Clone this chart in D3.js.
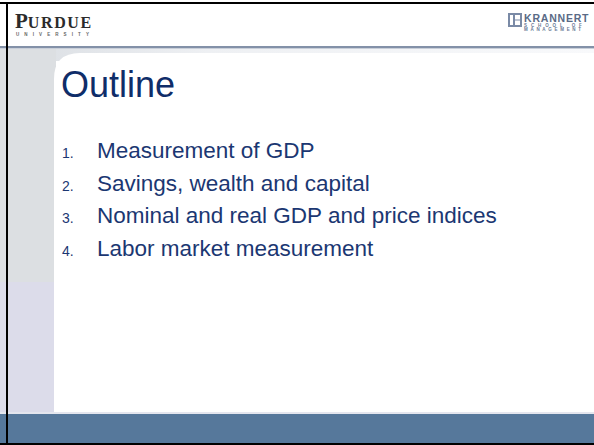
<!DOCTYPE html>
<html><head><meta charset="utf-8">
<script src="https://cdn.jsdelivr.net/npm/d3@7"></script>
<style>html,body{margin:0;padding:0;background:#fff;overflow:hidden}</style>
</head><body>
<script>
const title = "Outline";
const itemNumbers = ["1.", "2.", "3.", "4."];
const itemLabels = ["Measurement of GDP", "Savings, wealth and capital", "Nominal and real GDP and price indices", "Labor market measurement"];

const W = 594, H = 445;
const svg = d3.select("body").append("svg").attr("width", W).attr("height", H);
const defs = svg.append("defs");
const g1 = defs.append("linearGradient").attr("id","topband").attr("x1","0").attr("x2","1");
g1.append("stop").attr("offset","0").attr("stop-color","#d9dde2");
g1.append("stop").attr("offset","0.35").attr("stop-color","#eef0f3");
g1.append("stop").attr("offset","1").attr("stop-color","#f8f9fb");

// background
svg.append("rect").attr("width",W).attr("height",H).attr("fill","#fff");
// header line
svg.append("rect").attr("x",0).attr("y",46).attr("width",W).attr("height",2).attr("fill","#8391a8");
svg.append("rect").attr("x",0).attr("y",48).attr("width",W).attr("height",1).attr("fill","#c9cfd9");
// top band
svg.append("rect").attr("x",0).attr("y",49).attr("width",W).attr("height",12).attr("fill","url(#topband)");
// left columns
svg.append("rect").attr("x",0).attr("y",49).attr("width",56).attr("height",233).attr("fill","#dcdfe2");
svg.append("rect").attr("x",0).attr("y",282).attr("width",56).attr("height",132).attr("fill","#dcdcea");
// white panel with rounded corner
const px = 54, py = 53, r = 26;
svg.append("path")
  .attr("d", `M${px},${412} L${px},${py+r} Q${px},${py} ${px+r},${py} L${W},${py} L${W},412 Z`)
  .attr("fill","#fff");
// bottom bar
svg.append("rect").attr("x",0).attr("y",412).attr("width",W).attr("height",2).attr("fill","#e4e6ee");
svg.append("rect").attr("x",0).attr("y",414).attr("width",W).attr("height",29).attr("fill","#56789b");
// black borders
svg.append("rect").attr("x",0).attr("y",2).attr("width",W).attr("height",2).attr("fill","#000");
svg.append("rect").attr("x",6).attr("y",2).attr("width",2).attr("height",H-2).attr("fill","#000");
svg.append("rect").attr("x",0).attr("y",443).attr("width",W).attr("height",2).attr("fill","#000");

// Purdue logo
const pl = svg.append("g");
const pt = pl.append("text").attr("x",15).attr("y",28).attr("font-family","Liberation Serif, serif").attr("fill","#2b2b2b").attr("font-weight","bold");
pt.append("tspan").attr("font-size",21).text("P");
pt.append("tspan").attr("font-size",16).attr("letter-spacing",1.6).text("URDUE");
pl.append("text").attr("x",16).attr("y",35.5).attr("font-family","Liberation Sans, sans-serif").attr("font-size",4.5).attr("font-weight","bold")
  .attr("fill","#666").attr("letter-spacing",5.1).text("UNIVERSITY");

// Krannert logo
const kl = svg.append("g");
kl.append("rect").attr("x",508).attr("y",13).attr("width",14).attr("height",14).attr("fill","#7a8aa6");
kl.append("rect").attr("x",510).attr("y",15).attr("width",3).attr("height",10).attr("fill","#fff");
kl.append("rect").attr("x",515).attr("y",15).attr("width",5).attr("height",4.5).attr("fill","#fff");
kl.append("rect").attr("x",515).attr("y",20.5).attr("width",5).attr("height",4.5).attr("fill","#fff");
kl.append("text").attr("x",524).attr("y",22).attr("font-family","Liberation Sans, sans-serif").attr("font-size",10.5).attr("font-weight","bold")
  .attr("fill","#5a6a86").attr("letter-spacing",0.8).text("KRANNERT");
kl.append("text").attr("x",524).attr("y",26.5).attr("font-family","Liberation Sans, sans-serif").attr("font-size",4.5).attr("font-weight","bold")
  .attr("fill","#6a7a96").attr("letter-spacing",3.9).text("SCHOOL OF");
kl.append("text").attr("x",524).attr("y",31).attr("font-family","Liberation Sans, sans-serif").attr("font-size",4.5).attr("font-weight","bold")
  .attr("fill","#6a7a96").attr("letter-spacing",2.7).text("MANAGEMENT");

// Title
svg.append("text").attr("x",61).attr("y",97).attr("font-family","Liberation Sans, Arial, sans-serif")
  .attr("font-size",36).attr("fill","#0f2d69").text(title);

// Items
const y = d3.scalePoint().domain(d3.range(itemLabels.length)).range([158, 256]);
const items = svg.append("g").selectAll("g").data(itemLabels).join("g")
  .attr("transform",(d,i)=>`translate(0,${y(i)})`);
items.append("text").attr("x",62).attr("font-family","Liberation Sans, Arial, sans-serif")
  .attr("font-size",14).attr("fill","#1b3772").text((d,i)=>itemNumbers[i]);
items.append("text").attr("x",97).attr("font-family","Liberation Sans, Arial, sans-serif")
  .attr("font-size",22.5).attr("fill","#1b3772").text(d=>d);
</script>
</body></html>
